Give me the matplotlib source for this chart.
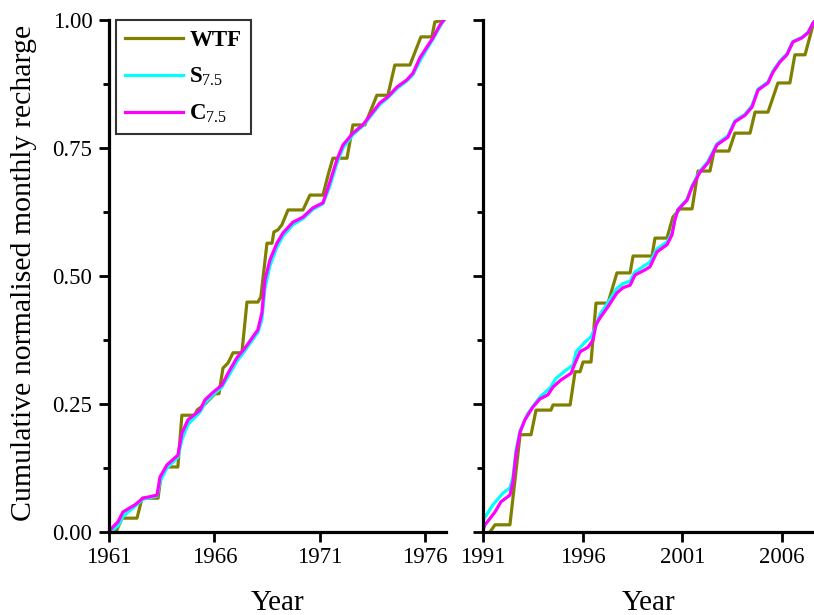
import matplotlib
matplotlib.use('Agg')
import matplotlib.pyplot as plt
from matplotlib.ticker import MultipleLocator, FormatStrFormatter

plt.rcParams['font.family'] = ['Liberation Serif', 'DejaVu Serif']
plt.rcParams['mathtext.fontset'] = 'custom'
plt.rcParams['mathtext.rm'] = 'Liberation Serif'
plt.rcParams['mathtext.it'] = 'Liberation Serif:italic'
plt.rcParams['mathtext.bf'] = 'Liberation Serif:bold'

# ---- left panel, 1961-1977 ----
wtf1_year = [1961.0, 1961.33, 1961.62, 1962.33, 1962.57, 1963.33, 1963.47, 1963.75, 1964.27, 1964.46,
             1965.08, 1965.18, 1965.56, 1966.03, 1966.22, 1966.41, 1966.65, 1966.89, 1967.31, 1967.55,
             1968.07, 1968.21, 1968.5, 1968.74, 1968.83, 1969.02, 1969.21, 1969.5, 1970.21, 1970.54,
             1971.16, 1971.4, 1971.63, 1972.3, 1972.58, 1973.15, 1973.72, 1974.24, 1974.57, 1975.29,
             1975.62, 1975.81, 1976.33, 1976.47, 1976.9]
wtf1_val = [0.0, 0.0, 0.027, 0.027, 0.066, 0.066, 0.11, 0.127, 0.127, 0.228,
            0.228, 0.238, 0.25, 0.27, 0.27, 0.32, 0.33, 0.35, 0.35, 0.449,
            0.449, 0.459, 0.564, 0.564, 0.586, 0.59, 0.60, 0.629, 0.629, 0.658,
            0.658, 0.697, 0.73, 0.73, 0.795, 0.795, 0.853, 0.853, 0.912, 0.912,
            0.947, 0.967, 0.967, 0.996, 1.0]

sc1_year = [1961.0, 1961.05, 1961.43, 1961.66, 1962.23, 1962.61, 1963.28, 1963.42, 1963.75, 1964.27,
            1964.46, 1964.75, 1965.32, 1965.56, 1965.89, 1966.36, 1966.65, 1967.07, 1967.45, 1967.83,
            1968.07, 1968.26, 1968.4, 1968.64, 1968.97, 1969.26, 1969.73, 1970.21, 1970.68, 1971.16,
            1971.49, 1971.82, 1972.11, 1972.58, 1973.05, 1973.48, 1973.86, 1974.24, 1974.67, 1975.14,
            1975.43, 1975.76, 1976.09, 1976.38, 1976.71, 1976.9]
s1_val = [0.0, 0.0, 0.012, 0.03, 0.05, 0.064, 0.07, 0.098, 0.125, 0.146,
          0.18, 0.21, 0.234, 0.252, 0.266, 0.283, 0.303, 0.333, 0.354, 0.376,
          0.39, 0.415, 0.475, 0.52, 0.556, 0.578, 0.6, 0.612, 0.63, 0.641,
          0.676, 0.72, 0.75, 0.776, 0.793, 0.815, 0.835, 0.848, 0.866, 0.881,
          0.893, 0.92, 0.943, 0.962, 0.987, 1.0]
c1_val = [0.0, 0.004, 0.02, 0.039, 0.053, 0.066, 0.072, 0.107, 0.131, 0.15,
          0.193, 0.219, 0.238, 0.258, 0.271, 0.287, 0.31, 0.34, 0.359, 0.381,
          0.395, 0.428, 0.492, 0.531, 0.564, 0.584, 0.605, 0.615, 0.633, 0.643,
          0.684, 0.727, 0.756, 0.779, 0.795, 0.818, 0.838, 0.85, 0.869, 0.883,
          0.896, 0.926, 0.947, 0.965, 0.99, 1.0]

# ---- right panel, 1991-2008 ----
wtf2_year = [1991.35, 1991.6, 1992.35, 1992.86, 1993.41, 1993.66, 1994.41, 1994.51, 1995.37, 1995.62,
             1995.87, 1996.02, 1996.42, 1996.67, 1997.27, 1997.72, 1998.38, 1998.53, 1999.48, 1999.63,
             2000.23, 2000.53, 2000.88, 2001.49, 2001.79, 2002.39, 2002.59, 2003.34, 2003.64, 2004.4,
             2004.65, 2005.3, 2005.8, 2006.4, 2006.65, 2007.16, 2007.56, 2007.7]
wtf2_val = [0.0, 0.014, 0.014, 0.19, 0.19, 0.238, 0.238, 0.248, 0.248, 0.313,
            0.313, 0.332, 0.332, 0.447, 0.447, 0.506, 0.506, 0.539, 0.539, 0.574,
            0.574, 0.615, 0.631, 0.631, 0.705, 0.705, 0.744, 0.744, 0.779, 0.779,
            0.82, 0.82, 0.877, 0.877, 0.932, 0.932, 0.99, 1.0]

c2_year = [1991.0, 1991.1, 1991.6, 1991.9, 1992.35, 1992.5, 1992.66, 1992.86, 1993.1, 1993.5,
           1993.86, 1994.26, 1994.51, 1994.91, 1995.42, 1995.62, 1995.87, 1996.27, 1996.52, 1996.67,
           1996.87, 1997.27, 1997.72, 1998.02, 1998.38, 1998.63, 1999.13, 1999.38, 1999.73, 2000.23,
           2000.48, 2000.63, 2000.78, 2001.24, 2001.49, 2001.89, 2002.29, 2002.54, 2002.74, 2003.29,
           2003.64, 2004.15, 2004.5, 2004.8, 2005.3, 2005.55, 2005.9, 2006.25, 2006.55, 2007.0,
           2007.31, 2007.56, 2007.7]
c2_val = [0.005, 0.014, 0.039, 0.059, 0.072, 0.098, 0.154, 0.195, 0.219, 0.244,
          0.26, 0.268, 0.283, 0.297, 0.31, 0.33, 0.352, 0.361, 0.375, 0.405,
          0.418, 0.44, 0.467, 0.477, 0.482, 0.502, 0.512, 0.518, 0.547, 0.561,
          0.58, 0.61, 0.629, 0.648, 0.674, 0.703, 0.721, 0.74, 0.756, 0.771,
          0.801, 0.814, 0.83, 0.863, 0.877, 0.898, 0.918, 0.932, 0.957, 0.965,
          0.975, 0.994, 1.0]

s2_year = [1991.0, 1991.5, 1992.0, 1992.35, 1992.5, 1992.66, 1992.86, 1993.26, 1993.86, 1994.36,
           1994.66, 1995.16, 1995.52, 1995.67, 1996.12, 1996.42, 1996.62, 1996.87, 1997.27, 1997.72,
           1998.02, 1998.38, 1998.63, 1999.13, 1999.38, 1999.73, 2000.23, 2000.48, 2000.63, 2000.78,
           2001.24, 2001.49, 2001.89, 2002.29, 2002.54, 2002.74, 2003.29, 2003.64, 2004.15, 2004.5,
           2004.8, 2005.3, 2005.55, 2005.9, 2006.25, 2006.55, 2007.0, 2007.31, 2007.56, 2007.7]
s2_val = [0.023, 0.053, 0.076, 0.086, 0.107, 0.16, 0.198, 0.232, 0.264, 0.281,
          0.3, 0.316, 0.326, 0.352, 0.371, 0.381, 0.398, 0.425, 0.448, 0.476,
          0.485, 0.49, 0.508, 0.521, 0.527, 0.553, 0.566, 0.583, 0.612, 0.63,
          0.65, 0.676, 0.705, 0.724, 0.743, 0.758, 0.774, 0.803, 0.816, 0.833,
          0.865, 0.879, 0.9, 0.92, 0.934, 0.958, 0.966, 0.976, 0.994, 1.0]

xlims = [(1961, 1977), (1991, 2007.61)]
xtick_sets = [[1961, 1966, 1971, 1976], [1991, 1996, 2001, 2006]]
labels = ['WTF', r'S$_{\mathit{7.5}}$', r'C$_{\mathit{7.5}}$']
colors = ['#808000', '#00ffff', '#ff00ff']

fig = plt.figure(figsize=(8.14, 6.15), dpi=100)
ax1 = fig.add_axes([0.1339, 0.135, 0.414, 0.8325])
ax2 = fig.add_axes([0.5934, 0.135, 0.4066, 0.8325])

ax1.plot(wtf1_year, wtf1_val, color=colors[0], lw=2.3, label=labels[0])
ax1.plot(sc1_year, s1_val, color=colors[1], lw=2.3, label=labels[1])
ax1.plot(sc1_year, c1_val, color=colors[2], lw=2.3, label=labels[2])

ax2.plot(wtf2_year, wtf2_val, color=colors[0], lw=2.3)
ax2.plot(s2_year, s2_val, color=colors[1], lw=2.3)
ax2.plot(c2_year, c2_val, color=colors[2], lw=2.3)

for ax, xl, xt in zip([ax1, ax2], xlims, xtick_sets):
    ax.set_xlim(xl)
    ax.set_ylim(0, 1)
    ax.set_xticks(xt)
    ax.yaxis.set_major_locator(MultipleLocator(0.25))
    ax.yaxis.set_minor_locator(MultipleLocator(0.125))
    ax.yaxis.set_major_formatter(FormatStrFormatter('%.2f'))
    for s in ['top', 'right']:
        ax.spines[s].set_visible(False)
    for s in ['left', 'bottom']:
        ax.spines[s].set_linewidth(2.3)
    ax.tick_params(which='major', direction='out', length=7, width=2, labelsize=16.5, pad=5)
    ax.tick_params(axis='x', which='major', pad=4)
    ax.tick_params(which='minor', direction='out', length=4, width=2)
    ax.set_xlabel('Year', fontsize=21)
    ax.xaxis.set_label_coords(0.5, -0.113)
    ax.patch.set_alpha(0)

ax2.tick_params(axis='y', which='both', labelleft=False)
ax1.set_ylabel('Cumulative normalised monthly recharge', fontsize=21.5)
ax1.yaxis.set_label_coords(-0.214, 0.505)

leg = ax1.legend(loc='upper left', bbox_to_anchor=(0.021, 0.999), borderaxespad=0,
                 fancybox=False, edgecolor='black',
                 prop={'size': 16.5, 'weight': 'bold'}, handlelength=2.5, borderpad=0.4,
                 labelspacing=0.65, handletextpad=0.3)
leg.get_frame().set_linewidth(1.5)

fig.savefig('out.png', dpi=100)
